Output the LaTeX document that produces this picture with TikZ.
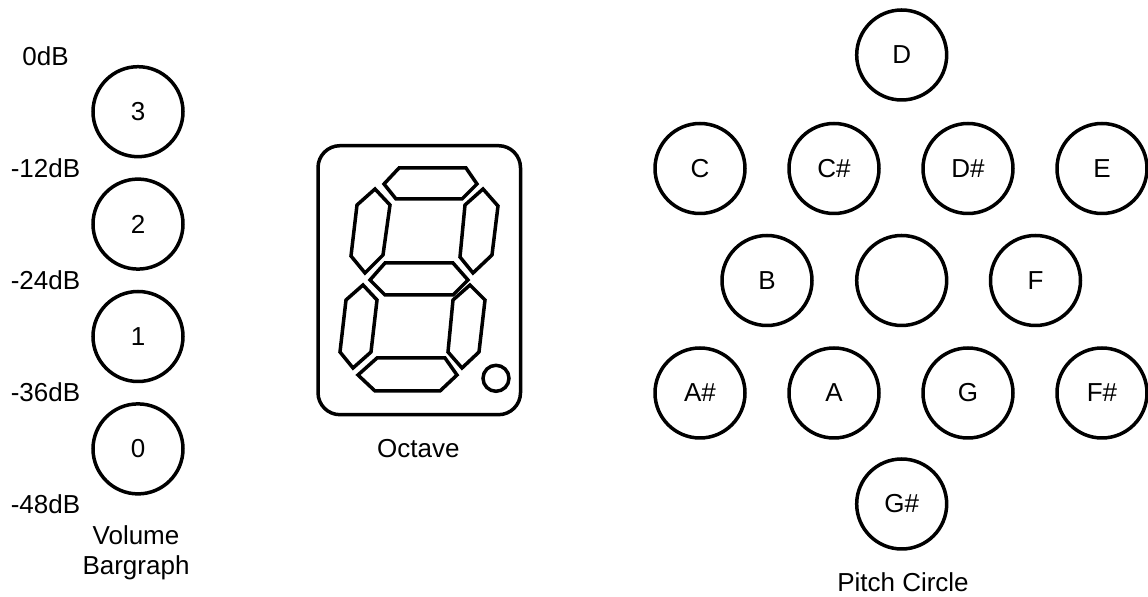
\documentclass[tikz,border=0pt]{standalone}
\usepackage{fontspec}
\setmainfont{Liberation Sans}
\begin{document}
\begin{tikzpicture}[x=0.5pt, y=-0.5pt,
  every node/.style={font=\fontsize{13}{15.6}\selectfont},
  btn/.style={circle, draw, line width=1.75pt, minimum size=45pt, inner sep=0pt},
  lbl/.style={anchor=base, inner sep=0pt},
  seg/.style={draw, line width=1.75pt, line join=miter}]
\useasboundingbox (0,0) rectangle (1148,597);

% Volume bargraph
\foreach \n/\t [count=\i from 0] in {v3/3, v2/2, v1/1, v0/0}
  \node[btn] (\n) at (138, 111.7+112.4*\i) {\t};
\foreach \t [count=\i from 0] in {0dB, -12dB, -24dB, -36dB, -48dB}
  \node[lbl] (db\i) at (45.5, 66+111.9*\i) {\t};
\node[lbl] (voltitle1) at (136, 544.3) {Volume};
\node[lbl] (voltitle2) at (136, 574.3) {Bargraph};

% Seven-segment octave display
\draw[line width=1.75pt, rounded corners=11pt] (318,145.7) rectangle (520.5,414.7);
\path[seg] (399,168) -- (466,168) -- (477,184) -- (462,199) -- (396,199) -- (384,184) -- cycle;
\path[seg] (375,189) -- (390,205) -- (383,255) -- (365,273) -- (351,256) -- (357,205) -- cycle;
\path[seg] (483,189) -- (498,206) -- (492,255) -- (473,273) -- (460,257) -- (465,205) -- cycle;
\path[seg] (385,263) -- (453,263) -- (468,280) -- (453,295) -- (385,295) -- (370,280) -- cycle;
\path[seg] (363,285) -- (377,300) -- (371,352) -- (353,368) -- (340,352) -- (346,300) -- cycle;
\path[seg] (470,285) -- (485,300) -- (479,352) -- (462,368) -- (448,352) -- (453,300) -- cycle;
\path[seg] (377,358) -- (445,358) -- (457,375) -- (440,391) -- (375,391) -- (358,375) -- cycle;
\draw[line width=1.75pt] (496,378.3) circle[radius=6.5pt];
\node[lbl] (octave) at (418.3, 457.3) {Octave};

% Pitch circle
\node[btn] (D)  at (901.7, 55) {D};
\node[btn] (C)  at (700, 168.5) {C};
\node[btn] (Cs) at (834, 168.5) {C\#};
\node[btn] (Ds) at (968, 168.5) {D\#};
\node[btn] (E)  at (1102, 168.5) {E};
\node[btn] (B)  at (767, 280.5) {B};
\node[btn] (mid) at (901.7, 280.5) {};
\node[btn] (F)  at (1035.5, 280.5) {F};
\node[btn] (As) at (700, 393) {A\#};
\node[btn] (A)  at (834, 393) {A};
\node[btn] (G)  at (968, 393) {G};
\node[btn] (Fs) at (1102, 393) {F\#};
\node[btn] (Gs) at (901.7, 504) {G\#};
\node[lbl] (pitch) at (903, 592) {Pitch Circle};
\end{tikzpicture}
\end{document}
